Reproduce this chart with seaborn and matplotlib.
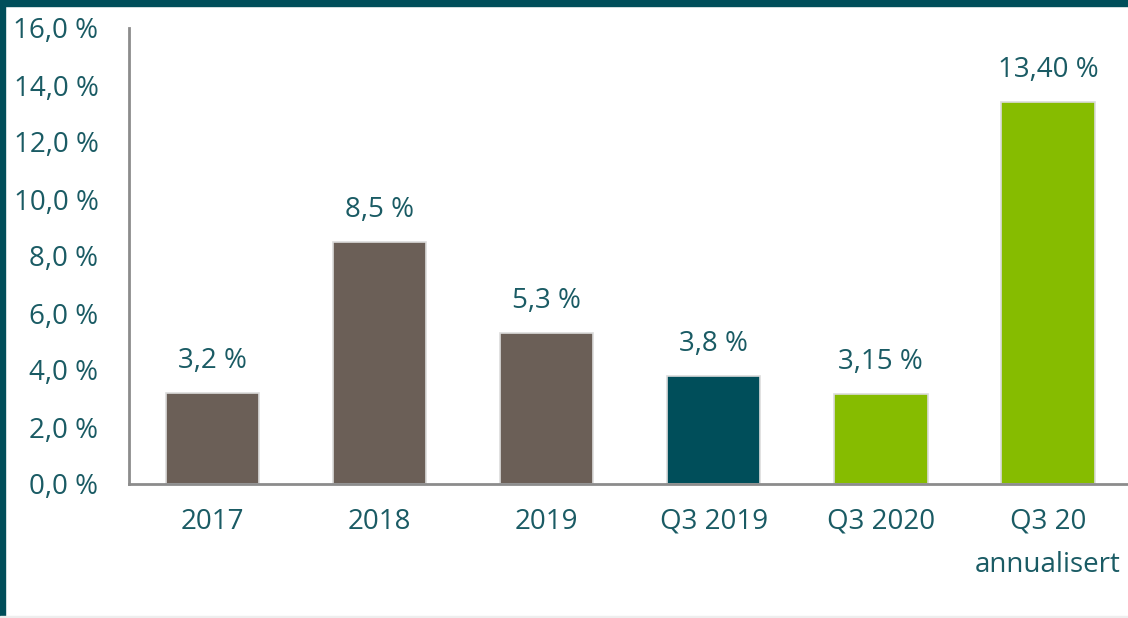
import matplotlib
matplotlib.use("Agg")
import matplotlib.pyplot as plt
import seaborn as sns
import pandas as pd
from matplotlib.patches import Rectangle

categories = ["2017", "2018", "2019", "Q3 2019", "Q3 2020", "Q3 20\nannualisert"]
values = [3.2, 8.5, 5.3, 3.8, 3.15, 13.40]
value_labels = ["3,2 %", "8,5 %", "5,3 %", "3,8 %", "3,15 %", "13,40 %"]
bar_colors = ["#6b5f57", "#6b5f57", "#6b5f57", "#004e5a", "#86bc00", "#86bc00"]
y_ticks = [0, 2, 4, 6, 8, 10, 12, 14, 16]

text_color = "#1a5b64"
border_color = "#004e5a"

sns.set_style("white")
plt.rcParams["font.family"] = ["Open Sans", "DejaVu Sans"]

df = pd.DataFrame({"cat": categories, "val": values})

fig = plt.figure(figsize=(11.28, 6.18), dpi=100)
ax = fig.add_axes([129 / 1128, 1 - 484 / 618, 1 - 129 / 1128, (484 - 28) / 618])

sns.barplot(data=df, x="cat", y="val", hue="cat", palette=bar_colors,
            legend=False, width=0.56, ax=ax, edgecolor="#dcdcdc", linewidth=1.2,
            saturation=1)

for container, lab in zip(ax.containers, value_labels):
    ax.bar_label(container, labels=[lab], padding=13, fontsize=20, color=text_color)

ax.set_ylim(0, 16)
ax.set_xlim(-0.5, 5.48)
ax.set_yticks(y_ticks)
ax.set_yticklabels([f"{t:.1f} %".replace(".", ",") for t in y_ticks])
ax.set_xlabel("")
ax.set_ylabel("")
ax.tick_params(axis="both", length=0, labelsize=20, colors=text_color)
ax.tick_params(axis="x", pad=17)
ax.tick_params(axis="y", pad=22)
for lbl in ax.get_xticklabels():
    lbl.set_linespacing(1.75)
    lbl.set_verticalalignment("top")

for side in ["top", "right"]:
    ax.spines[side].set_visible(False)
for side in ["left", "bottom"]:
    ax.spines[side].set_color("#8c8c8c")
    ax.spines[side].set_linewidth(2)

# frame of the slide
fig.patches.append(Rectangle((0, 1 - 6 / 618), 1, 6 / 618, transform=fig.transFigure,
                             color=border_color, zorder=10))
fig.patches.append(Rectangle((0, 0), 5 / 1128, 1, transform=fig.transFigure,
                             color=border_color, zorder=10))
fig.patches.append(Rectangle((0, 0), 1, 2 / 618, transform=fig.transFigure,
                             color="#eeeeee", zorder=10))

fig.savefig("out.png", dpi=100)
